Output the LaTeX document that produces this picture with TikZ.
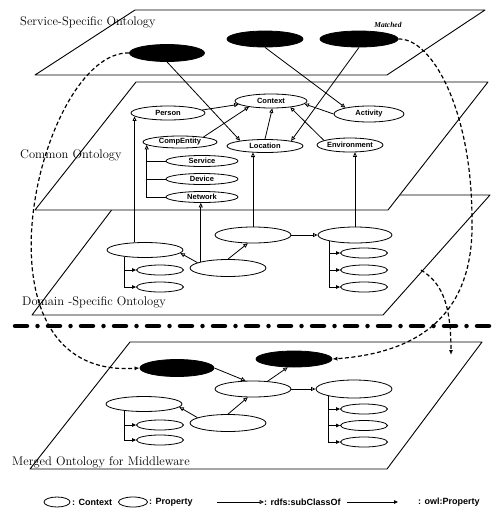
\documentclass[tikz,border=0pt]{standalone}
\usepackage{fontspec}
\newfontfamily\lblfont{Liberation Sans}
\newfontfamily\tagfont{Liberation Serif}
\usetikzlibrary{arrows.meta, shapes.geometric}
\tikzset{
  plane/.style={draw, fill=white, line width=0.9pt, line join=round},
  layerlbl/.style={anchor=base west, inner sep=0pt, font=\fontsize{12.5}{14}\selectfont},
  concept/.style={ellipse, draw, fill=white, line width=0.8pt, inner sep=0pt,
                  minimum width=74pt, minimum height=14pt,
                  font=\lblfont\bfseries\fontsize{7.5}{8}\selectfont},
  svcnode/.style={concept, fill=black},
  propnode/.style={concept, minimum width=47pt, minimum height=10pt},
  link/.style={line width=0.8pt},
  subarr/.style={link, -{Triangle[open, length=4.5pt, width=4pt]}},
  proparr/.style={link, -{Triangle[length=4pt, width=3.5pt]}},
  maparr/.style={-{Latex[length=5pt, width=4pt]}, line width=1.2pt,
                 dash pattern=on 4pt off 2.5pt},
  sepline/.style={line width=4.5pt, line cap=round,
                  dash pattern=on 12pt off 10.5pt on 0pt off 10.5pt},
  legtxt/.style={anchor=west, inner sep=0pt, font=\lblfont\bfseries\fontsize{9}{10}\selectfont},
}

\begin{document}
\begin{tikzpicture}[x=1pt, y=-1pt]
\useasboundingbox (0,0) rectangle (492,512);

% ── Layer planes (back to front) ──────────────────────────────────────────────
\draw[plane] (123,195) -- (490,195) -- (383,315) -- (32,315) -- cycle;  % domain
\draw[plane] (136,82) -- (488,82) -- (388,210) -- (35,210) -- cycle;    % common
\draw[plane] (135,10) -- (485,10) -- (387,75) -- (35,75) -- cycle;      % service
\draw[plane] (130,342) -- (482,342) -- (387,469) -- (30,469) -- cycle;  % merged

% ── Separator ─────────────────────────────────────────────────────────────────
\coordinate (sepl) at (15,326);
\coordinate (sepr) at (492,326);
\draw[sepline] (sepl) -- (sepr);

% ── Layer labels ──────────────────────────────────────────────────────────────
\node[layerlbl] (svclbl) at (20,25)  {Service-Specific Ontology};
\node[layerlbl] (comlbl) at (20,158) {Common Ontology};
\node[layerlbl] (domlbl) at (22,305) {Domain -Specific Ontology};
\node[layerlbl] (mrglbl) at (12,465) {Merged Ontology for Middleware};
\node[inner sep=0pt, font=\tagfont\bfseries\itshape\fontsize{7.5}{8}\selectfont]
  (matchlbl) at (388,25) {Matched};

% ── Service-specific nodes ────────────────────────────────────────────────────
\node[svcnode, minimum width=75pt, minimum height=17pt] (svcA) at (167,53) {};
\node[svcnode, minimum width=76pt, minimum height=16pt] (svcB) at (265,39) {};
\node[svcnode, minimum width=78pt, minimum height=16pt] (svcC) at (359,39) {};

% ── Common ontology nodes ─────────────────────────────────────────────────────
\node[concept, minimum width=72pt] (context) at (271,101) {Context};
\node[concept] (person) at (168,113) {Person};
\node[concept, minimum width=70pt, minimum height=16pt] (activity) at (369,114) {Activity};
\node[concept, minimum height=12pt] (compent) at (180,142) {CompEntity};
\node[concept, minimum width=76pt, minimum height=13pt] (location) at (265,146) {Location};
\node[concept, minimum width=66pt] (environ) at (350,145) {Environment};
\node[concept, minimum width=72pt, minimum height=11pt] (service) at (202,161) {Service};
\node[concept, minimum width=72pt, minimum height=11pt] (device)  at (202,179) {Device};
\node[concept, minimum width=72pt, minimum height=11pt] (network) at (202,197) {Network};

% ── Domain-specific nodes ─────────────────────────────────────────────────────
\node[concept, minimum width=76pt, minimum height=15pt] (dom1) at (145,250) {};
\node[concept, minimum width=76pt, minimum height=16pt] (dom2) at (253,235) {};
\node[concept, minimum width=76pt, minimum height=17pt] (dom3) at (228,268) {};
\node[concept, minimum width=74pt, minimum height=16pt] (dom4) at (355,235) {};
\node[propnode] (dom1a) at (160,270) {};
\node[propnode] (dom1b) at (160,287) {};
\node[propnode] (dom4a) at (364,253) {};
\node[propnode] (dom4b) at (364,270) {};
\node[propnode] (dom4c) at (364,287) {};

% ── Merged nodes ──────────────────────────────────────────────────────────────
\node[svcnode, minimum width=74pt, minimum height=17pt] (mrgA) at (177,368) {};
\node[svcnode, minimum width=76pt, minimum height=16pt] (mrgB) at (294,359) {};
\node[concept, minimum width=76pt, minimum height=15pt] (mrg1) at (144,404) {};
\node[concept, minimum width=76pt, minimum height=16pt] (mrg2) at (253,389) {};
\node[concept, minimum width=76pt, minimum height=17pt] (mrg3) at (228,423) {};
\node[concept, minimum width=76pt, minimum height=18pt] (mrg4) at (354,389) {};
\node[propnode] (mrg1a) at (160,425) {};
\node[propnode] (mrg1b) at (160,440) {};
\node[propnode] (mrg4a) at (364,409) {};
\node[propnode] (mrg4b) at (364,425.5) {};
\node[propnode] (mrg4c) at (364,442) {};

% ── Service → common ──────────────────────────────────────────────────────────
\draw[subarr] (svcA.south) -- (location.168);
\draw[subarr] (svcC.south) -- (location.11);
\draw[subarr] (svcB.south) -- (activity.165);

% Common: subclasses of Context
\draw[subarr] (person.5)     -- (context.186);
\draw[subarr] (compent.12)   -- (context.195);
\draw[subarr] (location.north) -- (context.280);
\draw[subarr] (environ.170)  -- (context.342);
\draw[subarr] (activity.180) -- (context.355);

% CompEntity tree
\draw[subarr] (network.west) -| (compent.185);
\draw[link] (service.west) -- (service.west -| compent.185);
\draw[link] (device.west)  -- (device.west -| compent.185);

% Domain → common
\draw[subarr] (dom1.144)   -- (dom1.144 |- person.186);
\draw[subarr] (dom3.167)   -- (dom3.167 |- network.south);
\draw[subarr] (dom2.north) -- (dom2.north |- location.207);
\draw[subarr] (dom4.north) -- (dom4.north |- environ.306);

% Domain layer
\draw[subarr] (dom3.170)   -- (dom1.355);
\draw[subarr] (dom3.north) -- (dom2.238);
\draw[subarr] (dom2.east)  -- (dom4.west);
\draw[proparr] (dom1.198) |- (dom1a.west);
\draw[proparr] (dom1.198) |- (dom1b.west);
\draw[proparr] (dom4.193) |- (dom4a.west);
\draw[proparr] (dom4.193) |- (dom4b.west);
\draw[proparr] (dom4.193) |- (dom4c.west);

% Merged layer
\draw[subarr] (mrgA.east)  -- (mrg2.132);
\draw[subarr] (mrg2.28)    -- (mrgB.233);
\draw[subarr] (mrg3.170)   -- (mrg1.355);
\draw[subarr] (mrg3.north) -- (mrg2.238);
\draw[subarr] (mrg2.east)  -- (mrg4.west);
\draw[proparr] (mrg1.199) |- (mrg1a.west);
\draw[proparr] (mrg1.199) |- (mrg1b.west);
\draw[proparr] (mrg4.195) |- (mrg4a.west);
\draw[proparr] (mrg4.195) |- (mrg4b.west);
\draw[proparr] (mrg4.195) |- (mrg4c.west);

% ── Mapping curves ────────────────────────────────────────────────────────────
\coordinate (domedge) at (421,270);
\coordinate (mrgtop)  at (451,355);
\draw[maparr] (svcA.west) .. controls (40,50) and (-40,380) .. (mrgA.west);
\draw[maparr] (svcC.east) .. controls (432,38) and (472,110) .. (472,220)
                          .. controls (474,305) and (430,352) .. (mrgB.east);
\draw[maparr] (domedge) .. controls (440,282) and (451,300) .. (mrgtop);

% ── Legend ────────────────────────────────────────────────────────────────────
\node[concept, minimum width=26pt, minimum height=10pt] (legctx) at (57,502) {};
\node[legtxt] (legctxt) at (72,502) {: Context};
\node[concept, minimum width=29pt, minimum height=10pt] (legprop) at (133,502) {};
\node[legtxt] (legpropt) at (149,502) {: Property};
\coordinate (legsub) at (217,502);
\node[legtxt] (legsubt) at (264,502) {: rdfs:subClassOf};
\coordinate (legowl) at (347,502);
\coordinate (legowlend) at (398,502);
\node[legtxt] (legowlt) at (418,502) {: owl:Property};
\draw[subarr] (legsub) -- (legsubt.west);
\draw[proparr] (legowl) -- (legowlend);

\end{tikzpicture}
\end{document}
